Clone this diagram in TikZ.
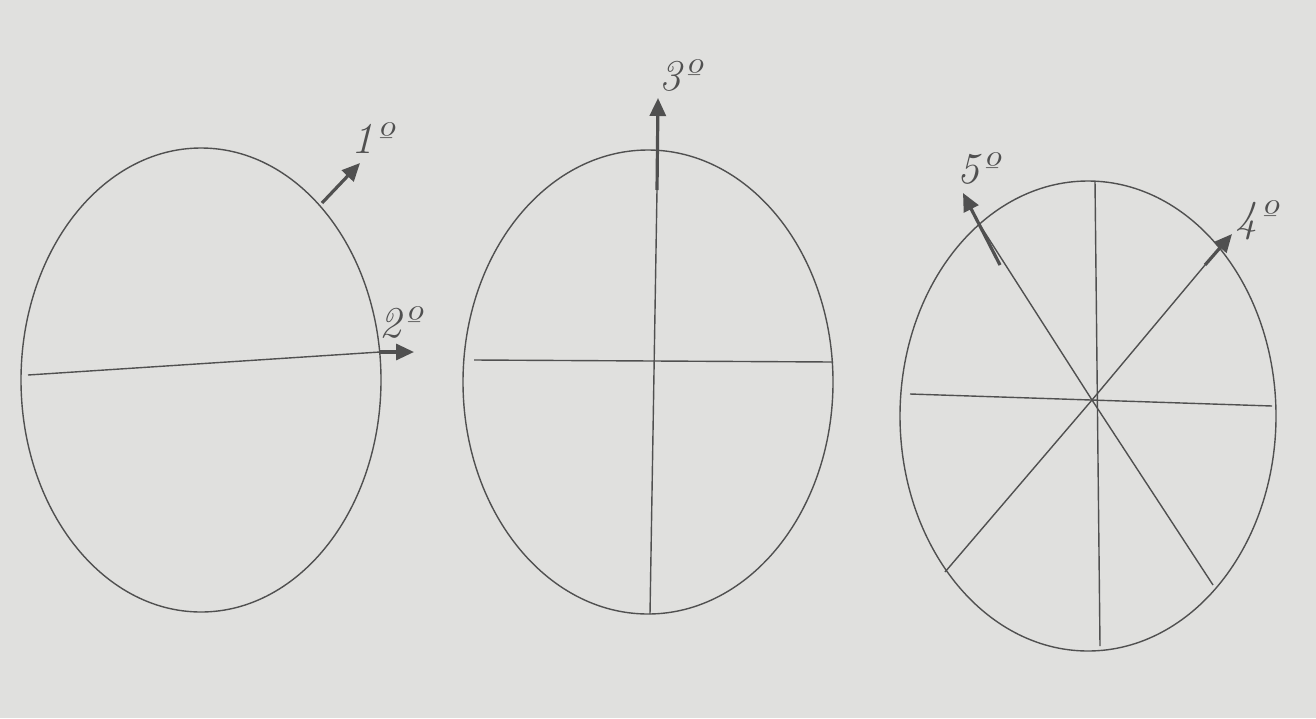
\documentclass[tikz,border=0pt]{standalone}
\usetikzlibrary{arrows.meta}
\definecolor{paper}{RGB}{224,224,222}
\definecolor{pencil}{RGB}{80,80,80}
\begin{document}
\begin{tikzpicture}[x=0.5pt,y=-0.5pt,line width=0.7pt,draw=pencil,
  every node/.style={font=\fontsize{22}{22}\selectfont\itshape,text=pencil,inner sep=1pt},
  arr/.style={line width=1.6pt,-{Triangle[length=9pt,width=8pt]}}]
\fill[paper] (0,0) rectangle (1316,718);
\coordinate (C1) at (201,380);
\coordinate (C2) at (648,382);
\coordinate (C3) at (1092,400);
\coordinate (A1) at (322,203);
\coordinate (B1) at (360,163);
\coordinate (A2) at (380,352);
\coordinate (B2) at (414,352);
\coordinate (A3) at (657,190);
\coordinate (B3) at (658,98);
\coordinate (A4) at (1205,265);
\coordinate (B4) at (1232,234);
\coordinate (A5) at (1000,265);
\coordinate (B5) at (963,193);
\draw (C1) ellipse[x radius=180,y radius=232];
\draw (28,375) -- (A2);
\draw[arr] (A2) -- (B2);
\draw[arr] (A1) -- (B1);
\draw (C2) ellipse[x radius=185,y radius=232];
\draw (474,360) -- (833,362);
\draw (650,614) -- (A3);
\draw[arr] (A3) -- (B3);
\draw (1088,416) ellipse[x radius=188,y radius=235];
\draw (910,394) -- (1272,406);
\draw (1095,181) -- (1100,646);
\draw (C3) -- (A4);
\draw[arr] (A4) -- (B4);
\draw (C3) -- (945,572);
\draw (C3) -- (1213,585);
\draw (C3) -- (978,222);
\draw[arr] (A5) -- (B5);
\node (l1) at (372,138) {1º};
\node (l2) at (400,322) {2º};
\node (l3) at (680,75) {3º};
\node (l4) at (1256,220) {4º};
\node (l5) at (978,168) {5º};
\end{tikzpicture}
\end{document}
